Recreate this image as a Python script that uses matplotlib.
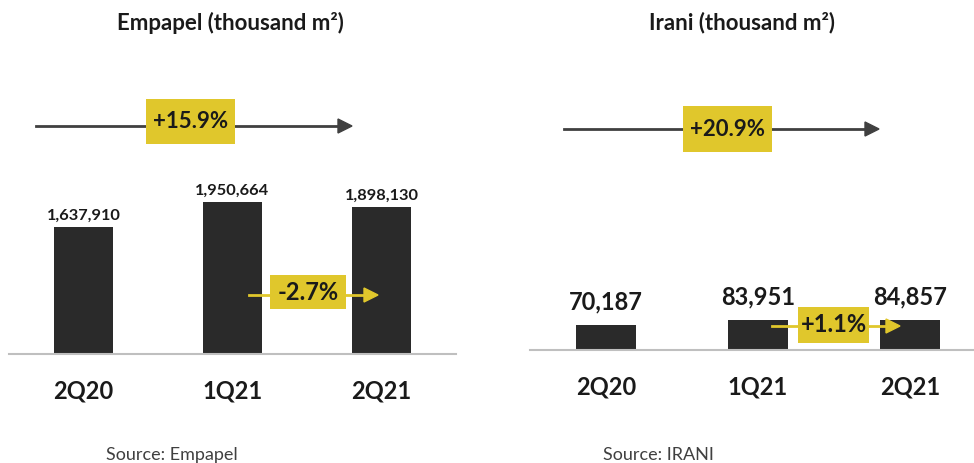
import matplotlib.pyplot as plt
from matplotlib.patches import Rectangle

plt.rcParams['font.family'] = ['Lato', 'DejaVu Sans']

# data
quarters = ['2Q20', '1Q21', '2Q21']
empapel = [1637910, 1950664, 1898130]
irani = [70187, 83951, 84857]
empapel_yoy = '+15.9%'
empapel_qoq = '-2.7%'
irani_yoy = '+20.9%'
irani_qoq = '+1.1%'

BAR = '#2a2a2a'
YEL = '#e0c72c'
W, H = 974, 463


def fx(px):
    return px / W


def fy(py):
    return 1 - py / H


def panel(left, right, bottom, ymax, values, label_size, label_gap):
    ax = fig.add_axes([fx(left), fy(bottom), fx(right - left), (274) / H])
    ax.bar(range(len(values)), values, width=0.4, color=BAR)
    ax.set_xlim(-0.5, 2.5)
    ax.set_ylim(0, ymax)
    for s in ['top', 'right', 'left']:
        ax.spines[s].set_visible(False)
    ax.spines['bottom'].set_color('#bfbfbf')
    ax.spines['bottom'].set_linewidth(1.5)
    ax.set_yticks([])
    ax.set_xticks(range(len(values)))
    ax.set_xticklabels(quarters, fontsize=17, fontweight='bold', color='#1a1a1a')
    ax.tick_params(axis='x', length=0, pad=18)
    for i, v in enumerate(values):
        ax.annotate(f'{v:,}', (i, v), xytext=(0, label_gap), textcoords='offset points',
                    ha='center', va='bottom', fontsize=label_size, fontweight='bold',
                    color='#1a1a1a')
    ax.patch.set_alpha(0)
    return ax


def trend(x0, x1, y, box, text, color, size):
    fig.add_artist(plt.Line2D([fx(x0), fx(x1 - 10)], [fy(y), fy(y)], color=color, lw=2,
                              transform=fig.transFigure, zorder=1))
    fig.add_artist(plt.Polygon([[fx(x1 - 14), fy(y - 7)], [fx(x1), fy(y)], [fx(x1 - 14), fy(y + 7)]],
                               closed=True, color=color, transform=fig.transFigure, zorder=1))
    bx0, by0, bx1, by1 = box
    fig.add_artist(Rectangle((fx(bx0), fy(by1)), fx(bx1 - bx0), (by1 - by0) / H,
                             facecolor=YEL, edgecolor='none', transform=fig.transFigure, zorder=2))
    fig.text(fx((bx0 + bx1) / 2), fy((by0 + by1) / 2), text, ha='center', va='center',
             fontsize=size, fontweight='bold', color='#1a1a1a', zorder=3)


fig = plt.figure(figsize=(9.74, 4.63), dpi=100)

# Empapel panel: axes spans baseline from x=9 to x=456 px, baseline at y=354 px
panel(9, 456, 354, 274 / 7.77e-5, empapel, 11.8, 3)
fig.text(fx(230), fy(23), 'Empapel (thousand m²)', ha='center', va='center',
         fontsize=16, fontweight='bold', color='#1a1a1a')
trend(36, 352, 126, (146, 99, 235, 144), empapel_yoy, '#404040', 16)
trend(249, 378, 295, (270, 275, 346, 309), empapel_qoq, YEL, 17)
fig.text(fx(106), fy(455), 'Source: Empapel', ha='left', va='center', fontsize=13, color='#404040')

# Irani panel
panel(530, 986, 350, 274 / 3.58e-4, irani, 17, 8)
fig.text(fx(742), fy(23), 'Irani (thousand m²)', ha='center', va='center',
         fontsize=16, fontweight='bold', color='#1a1a1a')
trend(564, 879, 129, (683, 106, 772, 152), irani_yoy, '#404040', 16)
trend(772, 900, 326, (798, 307, 869, 343), irani_qoq, YEL, 17)
fig.text(fx(603), fy(455), 'Source: IRANI', ha='left', va='center', fontsize=13, color='#404040')

fig.savefig('out.png', dpi=100)
